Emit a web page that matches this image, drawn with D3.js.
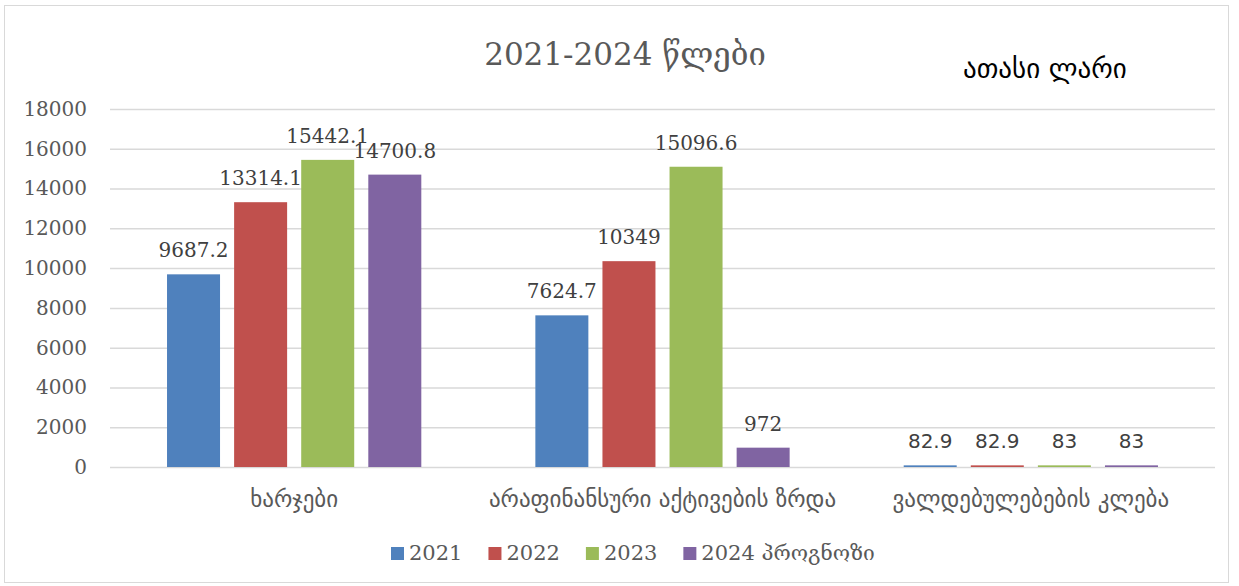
<!DOCTYPE html>
<html>
<head>
<meta charset="utf-8">
<script src="https://cdn.jsdelivr.net/npm/d3@7"></script>
<style>
  body { margin: 0; background: #fff; }
</style>
</head>
<body>
<script>
const categories = ['ხარჯები', 'არაფინანსური აქტივების ზრდა', 'ვალდებულებების კლება'];
const seriesNames = ['2021', '2022', '2023', '2024 პროგნოზი'];
const values2021 = [9687.2, 7624.7, 82.9];
const values2022 = [13314.1, 10349, 82.9];
const values2023 = [15442.1, 15096.6, 83];
const values2024 = [14700.8, 972, 83];
const yTicks = [0, 2000, 4000, 6000, 8000, 10000, 12000, 14000, 16000, 18000];
const colors = ['#4F81BD', '#C0504D', '#9BBB59', '#8064A2'];

const seriesValues = [values2021, values2022, values2023, values2024];

const width = 1239, height = 586;
const serif = '"DejaVu Serif", serif';
const sans = '"DejaVu Sans", sans-serif';

const svg = d3.select('body')
  .append('svg')
  .attr('width', width)
  .attr('height', height);

// outer frame
svg.append('rect')
  .attr('x', 4.5).attr('y', 5.5)
  .attr('width', 1224).attr('height', 577)
  .attr('fill', 'none')
  .attr('stroke', '#d9d9d9');

const y = d3.scaleLinear().domain([0, 18000]).range([467, 109]);
const x0 = d3.scaleBand().domain(categories).range([110, 1215]);
const x1 = d3.scaleBand().domain(seriesNames).range([0, x0.bandwidth()])
  .paddingInner(0.21).paddingOuter(0.85);

// gridlines + y labels
const yAxis = svg.append('g')
  .attr('transform', 'translate(110,0)')
  .call(d3.axisLeft(y).tickValues(yTicks).tickSize(-1105).tickPadding(23).tickFormat(d3.format('d')));
yAxis.select('.domain').remove();
yAxis.selectAll('.tick line').attr('stroke', '#d9d9d9').attr('stroke-width', 1.5);
yAxis.selectAll('.tick text')
  .attr('fill', '#595959')
  .style('font-family', serif)
  .style('font-size', '20px');

// bars
const groups = svg.selectAll('.grp')
  .data(categories)
  .enter()
  .append('g')
  .attr('class', 'grp')
  .attr('transform', d => `translate(${x0(d)},0)`);

groups.selectAll('rect')
  .data((c, ci) => seriesNames.map((s, si) => ({ s, si, ci, v: seriesValues[si][ci] })))
  .enter()
  .append('rect')
  .attr('x', d => x1(d.s))
  .attr('y', d => y(d.v))
  .attr('width', x1.bandwidth())
  .attr('height', d => y(0) - y(d.v))
  .attr('fill', d => colors[d.si]);

groups.selectAll('text')
  .data((c, ci) => seriesNames.map((s, si) => ({ s, si, ci, v: seriesValues[si][ci] })))
  .enter()
  .append('text')
  .attr('x', d => x1(d.s) + x1.bandwidth() / 2)
  .attr('y', d => y(d.v) - 17)
  .attr('text-anchor', 'middle')
  .attr('fill', '#404040')
  .style('font-family', d => d.ci === 2 ? sans : serif)
  .style('font-size', '20px')
  .text(d => d.v);

// category labels
const xAxis = svg.append('g')
  .attr('transform', 'translate(0,467)')
  .call(d3.axisBottom(x0).tickSize(0).tickPadding(24));
xAxis.select('.domain').remove();
xAxis.selectAll('.tick text')
  .attr('fill', '#595959')
  .style('font-family', sans)
  .style('font-size', '23px');

// title
svg.append('text')
  .attr('x', 625)
  .attr('y', 65)
  .attr('text-anchor', 'middle')
  .attr('fill', '#595959')
  .style('font-family', serif)
  .style('font-size', '31px')
  .text('2021-2024 წლები');

svg.append('text')
  .attr('x', 963)
  .attr('y', 78)
  .attr('fill', '#000')
  .style('font-family', sans)
  .style('font-size', '27px')
  .text('ათასი ლარი');

// legend
const legend = svg.append('g').attr('transform', 'translate(391,547)');
let lx = 0;
seriesNames.forEach((name, i) => {
  const item = legend.append('g').attr('transform', `translate(${lx},0)`);
  item.append('rect')
    .attr('width', 13).attr('height', 13)
    .attr('fill', colors[i]);
  const t = item.append('text')
    .attr('x', 18)
    .attr('y', 13)
    .attr('fill', '#595959')
    .style('font-family', serif)
    .style('font-size', '21px')
    .text(name);
  lx += 18 + t.node().getComputedTextLength() + 26;
});
</script>
</body>
</html>
